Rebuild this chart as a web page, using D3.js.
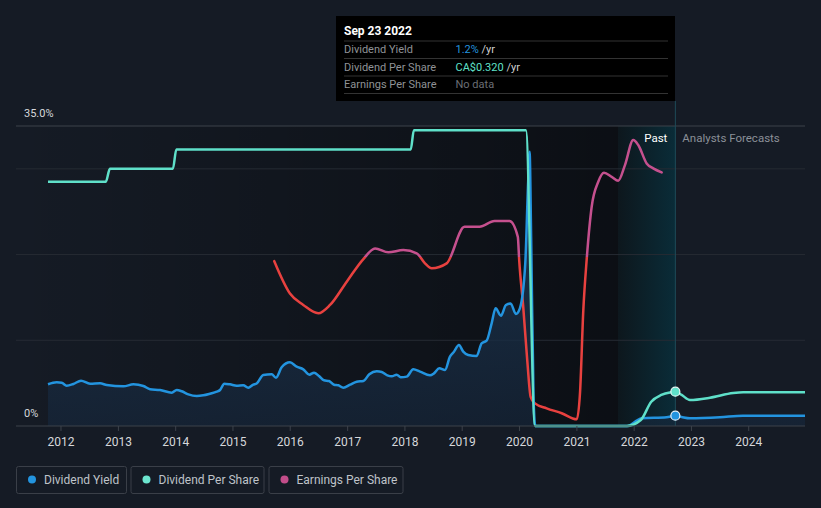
<!DOCTYPE html>
<html><head><meta charset="utf-8">
<script src="https://cdn.jsdelivr.net/npm/d3@7"></script>
<style>
body{margin:0;background:#151b25;}
svg{display:block;font-family:Roboto, "Open Sans", sans-serif;}
</style>
</head><body>
<svg id="c" width="821" height="508"></svg>
<script>
// ---- data (decimal year, value) ----
const yieldPast = [[2011.782,4.87],[2011.934,5.1],[2012.021,5.05],[2012.108,4.7],[2012.223,4.9],[2012.358,5.29],[2012.515,4.94],[2012.689,4.98],[2012.806,4.78],[2013.096,4.63],[2013.270,4.86],[2013.445,4.67],[2013.561,4.28],[2013.736,4.2],[2013.940,3.89],[2014.027,4.2],[2014.114,4.05],[2014.230,3.69],[2014.376,3.5],[2014.491,3.58],[2014.608,3.77],[2014.725,4.0],[2014.783,4.2],[2014.858,4.94],[2014.957,4.86],[2015.074,4.7],[2015.189,4.75],[2015.276,4.47],[2015.364,4.82],[2015.423,4.95],[2015.538,5.95],[2015.685,6.03],[2015.760,5.64],[2015.859,6.85],[2016.004,7.43],[2016.121,6.92],[2016.236,6.61],[2016.341,5.99],[2016.423,6.22],[2016.510,5.83],[2016.597,5.33],[2016.684,5.25],[2016.772,4.82],[2016.847,4.75],[2016.934,4.47],[2017.051,4.82],[2017.167,5.17],[2017.283,5.25],[2017.387,6.03],[2017.516,6.38],[2017.604,6.3],[2017.701,5.91],[2017.778,5.79],[2017.865,5.99],[2017.935,5.68],[2018.040,5.76],[2018.155,6.61],[2018.272,6.34],[2018.446,5.91],[2018.516,6.14],[2018.609,6.73],[2018.708,6.53],[2018.795,8.09],[2018.865,8.67],[2018.952,9.45],[2019.027,8.67],[2019.114,8.28],[2019.261,8.17],[2019.348,9.65],[2019.435,9.95],[2019.523,11.98],[2019.592,13.73],[2019.685,12.87],[2019.772,14.12],[2019.854,14.3],[2019.946,13.07],[2020.016,13.73],[2020.110,19.0],[2020.160,28.5],[2020.185,32.0],[2020.212,22.0],[2020.255,3.0],[2020.285,0],[2021.900,0],[2022.052,0.62],[2022.139,0.9],[2022.575,1.02],[2022.728,1.2]];
const yieldForecast = [[2022.728,1.2],[2022.838,1.05],[2022.983,0.9],[2023.506,1.02],[2023.907,1.2],[2024.989,1.2]];

const dpsPast = [[2011.782,2.28],[2012.79,2.28],[2012.86,2.40],[2013.96,2.40],[2014.02,2.58],[2018.11,2.58],[2018.165,2.76],[2020.12,2.76],[2020.28,0],[2021.878,0],[2022.125,0.056],[2022.307,0.227],[2022.482,0.29],[2022.656,0.315],[2022.728,0.32]];
const dpsForecast = [[2022.728,0.32],[2022.838,0.29],[2022.983,0.243],[2023.332,0.264],[2023.738,0.308],[2023.912,0.315],[2024.989,0.315]];

const epsPast = [[2015.730,-0.24],[2016.004,-2.14],[2016.236,-2.82],[2016.498,-3.31],[2016.702,-2.82],[2016.993,-1.45],[2017.283,-0.12],[2017.487,0.51],[2017.719,0.28],[2017.981,0.41],[2018.214,0.22],[2018.359,-0.37],[2018.476,-0.66],[2018.738,-0.37],[2019.050,1.78],[2019.311,1.78],[2019.573,2.12],[2019.835,2.12],[2019.980,1.19],[2020.004,-0.18],[2020.074,-2.92],[2020.144,-6.06],[2020.203,-8.22],[2020.278,-8.61],[2020.482,-8.9],[2020.744,-9.19],[2021.006,-9.55],[2021.063,-8.0],[2021.121,-3.12],[2021.180,-0.14],[2021.267,2.96],[2021.382,4.43],[2021.482,4.96],[2021.616,4.72],[2021.731,4.49],[2021.848,5.41],[2021.993,6.88],[2022.080,6.59],[2022.227,5.51],[2022.342,5.22],[2022.489,4.98]];

const yTicks = [0, 10, 20, 30, 35];
const yTickLabels = {0: "0%", 35: "35.0%"};
const xTickYears = [2012,2013,2014,2015,2016,2017,2018,2019,2020,2021,2022,2023,2024];
const nowYear = 2022.728;
const pastStartYear = 2021.728;
const tooltipDate = "Sep 23 2022";
const tooltipRows = [
  {label:"Dividend Yield", value:"1.2%", unit:" /yr", color:"#2394df"},
  {label:"Dividend Per Share", value:"CA$0.320", unit:" /yr", color:"#5fe0c9"},
  {label:"Earnings Per Share", value:"No data", unit:"", color:"#6b6f75"}
];
const legendItems = [
  {label:"Dividend Yield", color:"#2394df"},
  {label:"Dividend Per Share", color:"#6ce5cf"},
  {label:"Earnings Per Share", color:"#c24d8a"}
];

// ---- helpers ----
function toDate(t){const y=Math.floor(t);const s=new Date(y,0,1),e=new Date(y+1,0,1);return new Date(+s+(t-y)*(e-s));}

const svg = d3.select("#c");
const pTop=126,pBottom=426,gridL=16,pRight=805;

const x = d3.scaleTime().domain([toDate(2011.782), toDate(2024.989)]).range([48, 805]);
const yPct = d3.scaleLinear().domain([0,35]).range([pBottom, pTop]);
const yDps = d3.scaleLinear().domain([0,2.8]).range([pBottom, pTop]);
const yEps = d3.scaleLinear().domain([-9.94,7.71]).range([pBottom, pTop]);

const defs = svg.append("defs");
const pg = defs.append("linearGradient").attr("id","pastBg").attr("x1","0").attr("x2","1").attr("y1","0").attr("y2","0");
pg.append("stop").attr("offset","0").attr("stop-color","#000").attr("stop-opacity",0);
pg.append("stop").attr("offset","1").attr("stop-color","#000").attr("stop-opacity",0.45);
const bg = defs.append("linearGradient").attr("id","bandBg").attr("x1","0").attr("x2","1").attr("y1","0").attr("y2","0");
bg.append("stop").attr("offset","0").attr("stop-color","#0d171d");
bg.append("stop").attr("offset","1").attr("stop-color","#0a2c38");
const ag = defs.append("linearGradient").attr("id","areaG").attr("x1","0").attr("x2","0").attr("y1","0").attr("y2","1");
ag.append("stop").attr("offset","0").attr("stop-color","#1d3a58").attr("stop-opacity",0.9);
ag.append("stop").attr("offset","1").attr("stop-color","#16263a").attr("stop-opacity",0.7);
const eg = defs.append("linearGradient").attr("id","epsG").attr("gradientUnits","userSpaceOnUse")
  .attr("x1",0).attr("x2",0).attr("y1",pTop).attr("y2",pBottom);
const zOff = (yEps(0)-pTop)/(pBottom-pTop);
eg.append("stop").attr("offset",0).attr("stop-color","#c5508e");
eg.append("stop").attr("offset",zOff).attr("stop-color","#c5508e");
eg.append("stop").attr("offset",zOff).attr("stop-color","#e8413f");
eg.append("stop").attr("offset",1).attr("stop-color","#e8413f");

const xNow = x(toDate(nowYear)), xPast = x(toDate(pastStartYear));

// backgrounds
svg.append("rect").attr("x",gridL).attr("y",pTop).attr("width",xPast-gridL).attr("height",pBottom-pTop).attr("fill","url(#pastBg)");
svg.append("rect").attr("x",xPast).attr("y",pTop).attr("width",xNow-xPast).attr("height",pBottom-pTop).attr("fill","url(#bandBg)");

// grid
svg.selectAll("line.grid").data(yTicks.filter(d=>d>0)).join("line").attr("class","grid")
  .attr("x1",gridL).attr("x2",pRight).attr("y1",d=>yPct(d)).attr("y2",d=>yPct(d))
  .attr("stroke",d=>d===35?"#3d424b":"#262b33").attr("stroke-width",1);

// area + lines
const yieldAll = yieldPast.concat(yieldForecast.slice(1));
const area = d3.area().x(d=>x(toDate(d[0]))).y0(pBottom).y1(d=>yPct(d[1])).curve(d3.curveMonotoneX);
svg.append("path").attr("d",area(yieldAll)).attr("fill","url(#areaG)");

const lineY = d3.line().x(d=>x(toDate(d[0]))).y(d=>yPct(d[1])).curve(d3.curveMonotoneX);
const lineD = d3.line().x(d=>x(toDate(d[0]))).y(d=>yDps(d[1])).curve(d3.curveMonotoneX);
const lineE = d3.line().x(d=>x(toDate(d[0]))).y(d=>yEps(d[1])).curve(d3.curveMonotoneX);

svg.append("path").attr("d",lineE(epsPast)).attr("fill","none").attr("stroke","url(#epsG)").attr("stroke-width",2.5).attr("stroke-linejoin","round").attr("stroke-linecap","round");
svg.append("path").attr("d",lineY(yieldAll)).attr("fill","none").attr("stroke","#2394df").attr("stroke-width",2.5).attr("stroke-linejoin","round");
svg.append("path").attr("d",lineD(dpsPast.concat(dpsForecast.slice(1)))).attr("fill","none").attr("stroke","#5fe0c9").attr("stroke-width",2.5).attr("stroke-linejoin","round");

// now line
svg.append("line").attr("x1",xNow).attr("x2",xNow).attr("y1",101).attr("y2",pBottom).attr("stroke","#1e4b59").attr("stroke-width",1);

// axis
const xAxis = d3.axisBottom(x).tickValues(xTickYears.map(y=>new Date(y,0,1))).tickFormat(d3.timeFormat("%Y")).tickSize(5).tickPadding(6);
const ax = svg.append("g").attr("transform",`translate(0,${pBottom})`).call(xAxis);
ax.select(".domain").remove();
ax.selectAll(".tick line").attr("stroke","#3d424b");
ax.selectAll(".tick text").attr("fill","#d6d8db").attr("font-size",12).attr("font-family","Roboto, sans-serif");
svg.append("line").attr("x1",gridL).attr("x2",pRight).attr("y1",pBottom).attr("y2",pBottom).attr("stroke","#3d424b");

// y labels
Object.keys(yTickLabels).forEach(k=>{
  svg.append("text").attr("x",24).attr("y",yPct(+k)-9).attr("fill","#d6d8db").attr("font-size",11).text(yTickLabels[k]);
});

// past / forecast labels
svg.append("text").attr("x",xNow-8).attr("y",142).attr("text-anchor","end").attr("fill","#ffffff").attr("font-size",11.5).text("Past");
svg.append("text").attr("x",xNow+7).attr("y",142).attr("fill","#8b9098").attr("font-size",11.5).text("Analysts Forecasts");

// dots
svg.append("circle").attr("cx",xNow).attr("cy",yDps(0.32)).attr("r",4.5).attr("fill","#5fe0c9").attr("stroke","#e8f8f5").attr("stroke-width",1.2);
svg.append("circle").attr("cx",xNow).attr("cy",yPct(1.2)).attr("r",4.5).attr("fill","#2394df").attr("stroke","#e6f1fa").attr("stroke-width",1.2);

// tooltip
const tt = svg.append("g");
tt.append("rect").attr("x",336).attr("y",16).attr("width",339).attr("height",85).attr("fill","#000");
tt.append("text").attr("x",344).attr("y",35).attr("fill","#fff").attr("font-size",12).attr("font-weight","bold").text(tooltipDate);
[41,58.5,76,93.5].forEach(yy=>tt.append("line").attr("x1",344).attr("x2",668).attr("y1",yy).attr("y2",yy).attr("stroke","#333").attr("stroke-width",1));
tooltipRows.forEach((r,i)=>{
  const yy = 53+i*17.5;
  tt.append("text").attr("x",344).attr("y",yy).attr("fill","#8f9296").attr("font-size",11).text(r.label);
  const t = tt.append("text").attr("x",455.5).attr("y",yy).attr("font-size",11);
  t.append("tspan").attr("fill",r.color).text(r.value);
  if(r.unit) t.append("tspan").attr("fill","#d0d0d0").text(r.unit);
});

// legend
const boxes = [[16,110],[130.5,133],[268.5,134]];
legendItems.forEach((it,i)=>{
  const [bx,bw]=boxes[i];
  svg.append("rect").attr("x",bx+0.5).attr("y",466.5).attr("width",bw).attr("height",27).attr("rx",2).attr("fill","none").attr("stroke","#3a3f48");
  svg.append("circle").attr("cx",bx+16).attr("cy",479.5).attr("r",4).attr("fill",it.color);
  svg.append("text").attr("x",bx+28).attr("y",483.5).attr("fill","#bfc3c9").attr("font-size",12).text(it.label);
});
</script>
</body></html>
